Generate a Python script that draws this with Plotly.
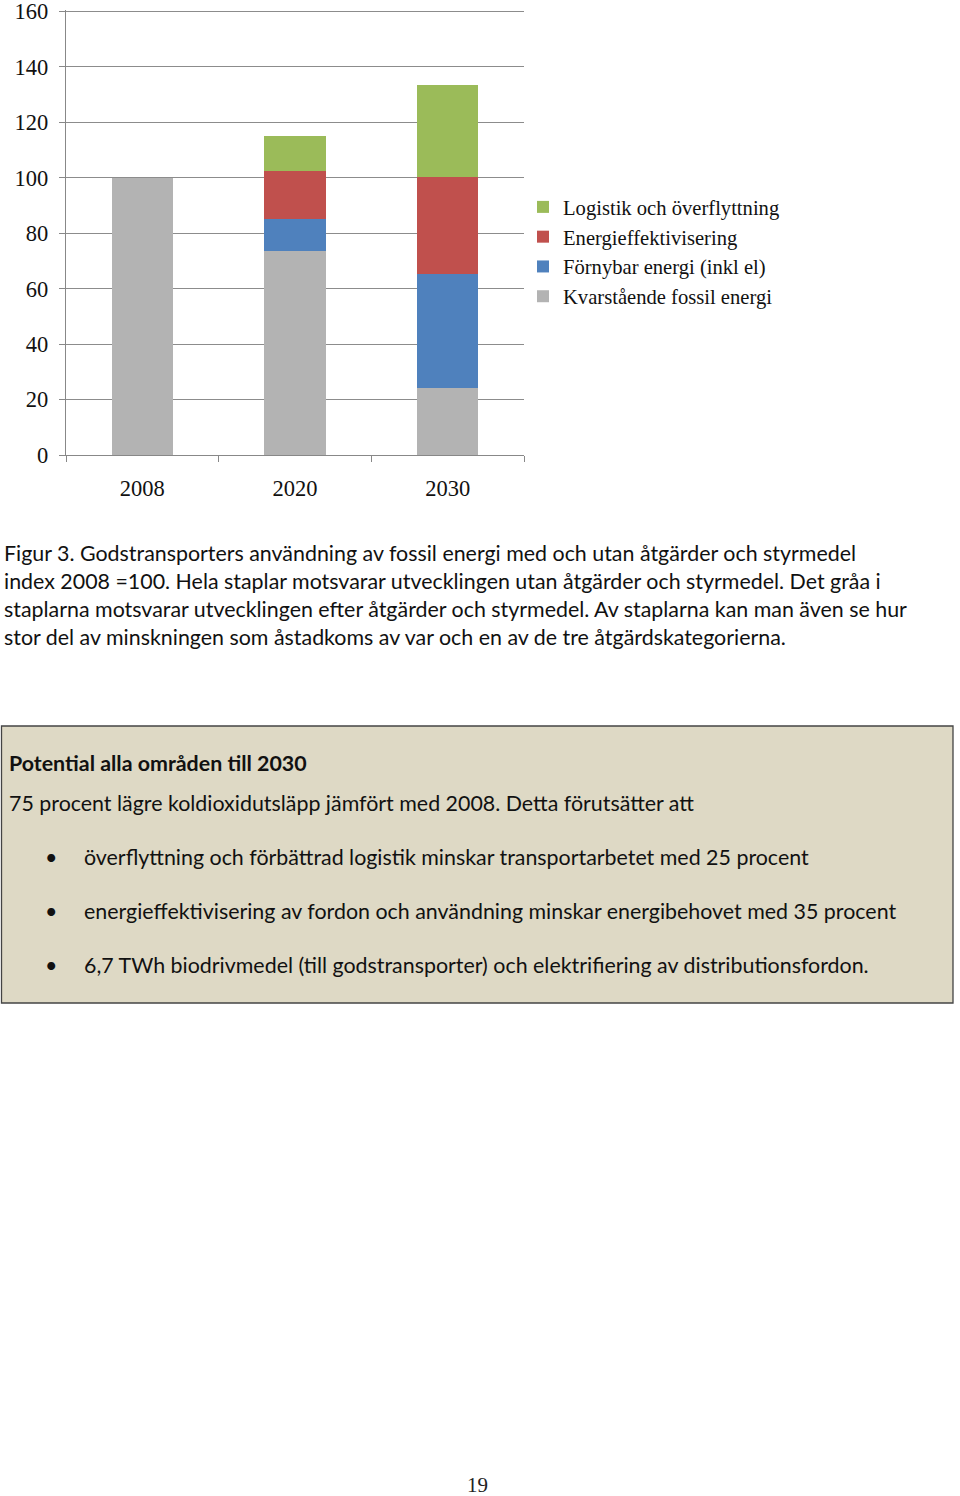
import plotly.graph_objects as go

categories = ["2008", "2020", "2030"]
kvarstaende = [100, 73.5, 24.3]
fornybar = [0, 11.6, 41.0]
energieff = [0, 17.4, 34.8]
logistik = [0, 12.6, 33.4]

series_names = ["Kvarstående fossil energi", "Förnybar energi (inkl el)",
                "Energieffektivisering", "Logistik och överflyttning"]
series_values = [kvarstaende, fornybar, energieff, logistik]
series_colors = ["#B3B3B3", "#4F81BD", "#C0504D", "#9BBB59"]

y_ticks = [0, 20, 40, 60, 80, 100, 120, 140, 160]

caption_lines = [
    "Figur 3. Godstransporters användning av fossil energi med och utan åtgärder och styrmedel",
    "index 2008 =100. Hela staplar motsvarar utvecklingen utan åtgärder och styrmedel. Det gråa i",
    "staplarna motsvarar utvecklingen efter åtgärder och styrmedel. Av staplarna kan man även se hur",
    "stor del av minskningen som åstadkoms av var och en av de tre åtgärdskategorierna.",
]
box_title = "Potential alla områden till 2030"
box_intro = "75 procent lägre koldioxidutsläpp jämfört med 2008. Detta förutsätter att"
box_bullets = [
    "överflyttning och förbättrad logistik minskar transportarbetet med 25 procent",
    "energieffektivisering av fordon och användning minskar energibehovet med 35 procent",
    "6,7 TWh biodrivmedel (till godstransporter) och elektrifiering av distributionsfordon.",
]
page_number = "19"

W, H = 960, 1496

def px(x):
    return x / W

def py(y):
    return 1 - y / H

fig = go.Figure()
for name, vals, col in zip(series_names, series_values, series_colors):
    fig.add_trace(go.Bar(x=categories, y=vals, name=name, marker_color=col,
                         marker_line_width=0))

serif = "Liberation Serif"
sans = "Lato"
TS = 21.4

fig.update_layout(
    width=W, height=H,
    margin=dict(l=0, r=0, t=0, b=0, autoexpand=False),
    paper_bgcolor="white", plot_bgcolor="white",
    barmode="stack", bargap=0.6,
    showlegend=True,
    legend=dict(x=px(523), y=py(187), xanchor="left", yanchor="top",
                traceorder="reversed", font=dict(family=serif, size=20.6, color="#111"),
                itemwidth=30, tracegroupgap=0, bgcolor="rgba(0,0,0,0)"),
    xaxis=dict(domain=[px(66), px(524)], type="category", automargin=False,
               showline=True, linecolor="#888", linewidth=1.3,
               ticks="outside", tickson="boundaries", ticklen=6, tickcolor="#888",
               tickfont=dict(family=serif, size=22.5, color="#111"),
               ticklabelstandoff=13, showgrid=False),
    yaxis=dict(domain=[py(455), py(10)], range=[0, 160.5], tickvals=y_ticks,
               automargin=False,
               showline=True, linecolor="#888", linewidth=1.3,
               ticks="outside", ticklen=6, tickcolor="#888",
               tickfont=dict(family=serif, size=22.5, color="#111"),
               ticklabelstandoff=6, ticklabeloverflow="allow",
               showgrid=True, gridcolor="#8c8c8c", gridwidth=1, zeroline=False),
)

annotations = []
for i, line in enumerate(caption_lines):
    annotations.append(dict(text=line, x=px(2), y=py(553 + 28 * i), xref="paper", yref="paper",
                            xanchor="left", yanchor="middle", showarrow=False,
                            font=dict(family=sans, size=TS, color="#111")))

fig.add_shape(type="rect", xref="paper", yref="paper",
              x0=px(1.5), x1=px(953), y0=py(1003), y1=py(726),
              fillcolor="#DED9C5", line=dict(color="#444", width=1.3), layer="below")

annotations.append(dict(text="<b>" + box_title + "</b>", x=px(7), y=py(763), xref="paper", yref="paper",
                        xanchor="left", yanchor="middle", showarrow=False,
                        font=dict(family=sans, size=TS, color="#111")))
annotations.append(dict(text=box_intro, x=px(7), y=py(803), xref="paper", yref="paper",
                        xanchor="left", yanchor="middle", showarrow=False,
                        font=dict(family=sans, size=TS, color="#111")))
for i, b in enumerate(box_bullets):
    yy = 857 + 54 * i
    annotations.append(dict(text="•", x=px(51), y=py(yy), xref="paper", yref="paper",
                            xanchor="center", yanchor="middle", showarrow=False,
                            font=dict(family=sans, size=TS, color="#111")))
    annotations.append(dict(text=b, x=px(82), y=py(yy), xref="paper", yref="paper",
                            xanchor="left", yanchor="middle", showarrow=False,
                            font=dict(family=sans, size=TS, color="#111")))

annotations.append(dict(text=page_number, x=px(477), y=py(1485), xref="paper", yref="paper",
                        xanchor="center", yanchor="middle", showarrow=False,
                        font=dict(family=serif, size=21, color="#222")))

fig.update_layout(annotations=annotations)
fig.write_html(
    "out.html",
    config={"displayModeBar": False},
    post_script="document.body.style.margin='0px';",
)
